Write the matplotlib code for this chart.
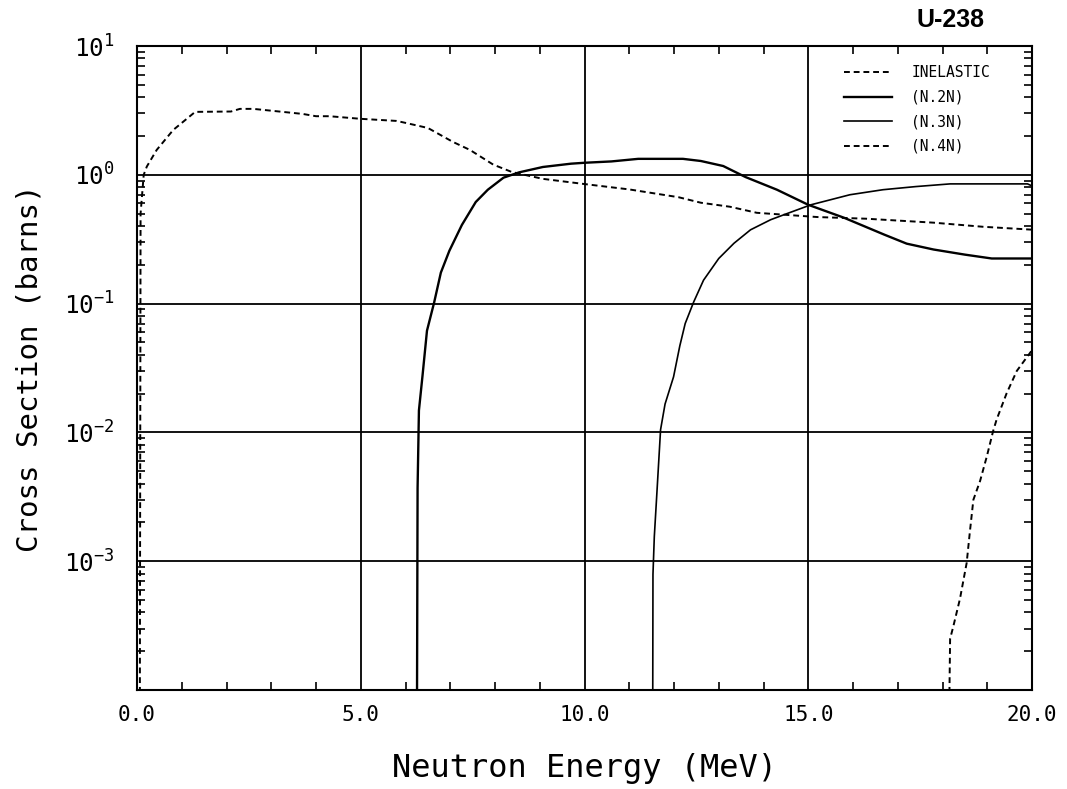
import numpy as np
import matplotlib
matplotlib.use("Agg")
import matplotlib.pyplot as plt
from matplotlib.ticker import LogLocator, MultipleLocator, NullFormatter

plt.rcParams['font.family'] = ['DejaVu Sans Mono', 'DejaVu Sans']

# data (energy in MeV, cross section in barns)
e_inel = [0.06, 0.08, 0.15, 0.22, 0.44, 0.81, 1.3, 2.1, 2.3, 2.6, 3.7, 4.0, 4.3, 5.0, 5.8,
          6.0, 6.5, 7.06, 7.44, 7.96, 8.38, 9.07, 9.97, 11.0, 12.1, 12.6, 13.25, 13.85,
          15.2, 16.3, 17.8, 18.9, 20.0]
s_inel = [1e-5, 0.5, 1.0, 1.16, 1.56, 2.23, 3.08, 3.1, 3.25, 3.25, 2.97, 2.85, 2.85, 2.72, 2.62,
          2.53, 2.31, 1.80, 1.56, 1.20, 1.05, 0.93, 0.85, 0.77, 0.67, 0.607, 0.565, 0.507,
          0.47, 0.456, 0.425, 0.395, 0.375]

e_n2n = [6.25, 6.27, 6.30, 6.38, 6.48, 6.64, 6.79, 6.98, 7.26, 7.57, 7.84, 8.19, 8.54, 9.07,
         9.7, 10.0, 10.6, 11.2, 12.2, 12.6, 13.1, 13.6, 14.3, 15.0, 15.8, 16.7, 17.2, 17.8,
         18.5, 19.1, 20.0]
s_n2n = [1e-5, 3.7e-3, 0.0148, 0.0275, 0.0616, 0.102, 0.174, 0.257, 0.408, 0.615, 0.766, 0.95,
         1.045, 1.15, 1.22, 1.24, 1.27, 1.33, 1.33, 1.28, 1.17, 0.96, 0.766, 0.585, 0.464,
         0.343, 0.292, 0.263, 0.24, 0.224, 0.224]

e_n3n = [11.52, 11.53, 11.56, 11.62, 11.7, 11.8, 11.99, 12.13, 12.25, 12.44, 12.66, 13.0,
         13.34, 13.71, 14.16, 14.52, 15.06, 15.93, 16.67, 17.4, 18.17, 19.9, 20.0]
s_n3n = [1e-5, 7.9e-4, 1.55e-3, 3.5e-3, 0.0105, 0.0166, 0.027, 0.047, 0.070, 0.103, 0.152,
         0.224, 0.294, 0.374, 0.448, 0.499, 0.585, 0.70, 0.766, 0.81, 0.85, 0.85, 0.82]

e_n4n = [18.12, 18.17, 18.24, 18.39, 18.54, 18.61, 18.69, 18.84, 18.99, 19.13, 19.21, 19.43,
         19.66, 19.99]
s_n4n = [1e-5, 2.5e-4, 3.1e-4, 5.1e-4, 9.7e-4, 1.67e-3, 3.0e-3, 4.2e-3, 6.5e-3, 0.0102,
         0.0126, 0.020, 0.030, 0.043]

x_ticks = [0, 5, 10, 15, 20]
x_labels = ['0.0', '5.0', '10.0', '15.0', '20.0']
y_ticks = [1e-3, 1e-2, 1e-1, 1e0, 1e1]
y_labels = [r'$\mathregular{10^{-3}}$', r'$\mathregular{10^{-2}}$', r'$\mathregular{10^{-1}}$',
            r'$\mathregular{10^{0}}$', r'$\mathregular{10^{1}}$']

fig = plt.figure(figsize=(10.67, 7.89), dpi=100)
ax = fig.add_axes([137/1067, 99/789, 895/1067, 644/789])

dash = (0, (3, 2))
ax.plot(e_inel, s_inel, color='black', lw=1.4, ls=dash, label='INELASTIC')
ax.plot(e_n2n, s_n2n, color='black', lw=1.7, label='(N.2N)')
ax.plot(e_n3n, s_n3n, color='black', lw=1.2, label='(N.3N)')
ax.plot(e_n4n, s_n4n, color='black', lw=1.4, ls=dash, label='(N.4N)')

ax.set_yscale('log')
ax.set_xlim(0, 20)
ax.set_ylim(1e-4, 10)
ax.set_xticks(x_ticks)
ax.set_xticklabels(x_labels)
ax.set_yticks(y_ticks)
ax.set_yticklabels(y_labels)
ax.xaxis.set_minor_locator(MultipleLocator(1))
ax.yaxis.set_minor_locator(LogLocator(base=10, subs=np.arange(2, 10), numticks=20))
ax.yaxis.set_minor_formatter(NullFormatter())

ax.tick_params(which='both', direction='in', top=True, right=True, color='black')
ax.tick_params(which='major', length=0, width=1.3)
ax.tick_params(which='minor', length=6, width=1.2)
ax.tick_params(axis='x', which='major', pad=11, labelsize=15)
ax.tick_params(axis='y', which='major', pad=16, labelsize=17.5)

ax.grid(which='major', color='black', lw=1.3)
for s in ax.spines.values():
    s.set_linewidth(1.5)

ax.set_xlabel('Neutron Energy (MeV)', fontsize=23, labelpad=20)
ax.set_ylabel('Cross Section (barns)', fontsize=21)
ax.yaxis.set_label_coords(-0.105, 0.5)

fig.text(985/1067, 1 - 20/789, 'U-238', ha='right', va='center', fontsize=18,
         fontweight='bold', family='Liberation Sans')

ax.legend(loc='upper left', bbox_to_anchor=(0.79, 0.97), frameon=False, fontsize=10.5,
          handlelength=3.3, handletextpad=1.3, labelspacing=0.65, borderpad=0,
          borderaxespad=0)

fig.savefig('out.png', dpi=100, facecolor='white')
